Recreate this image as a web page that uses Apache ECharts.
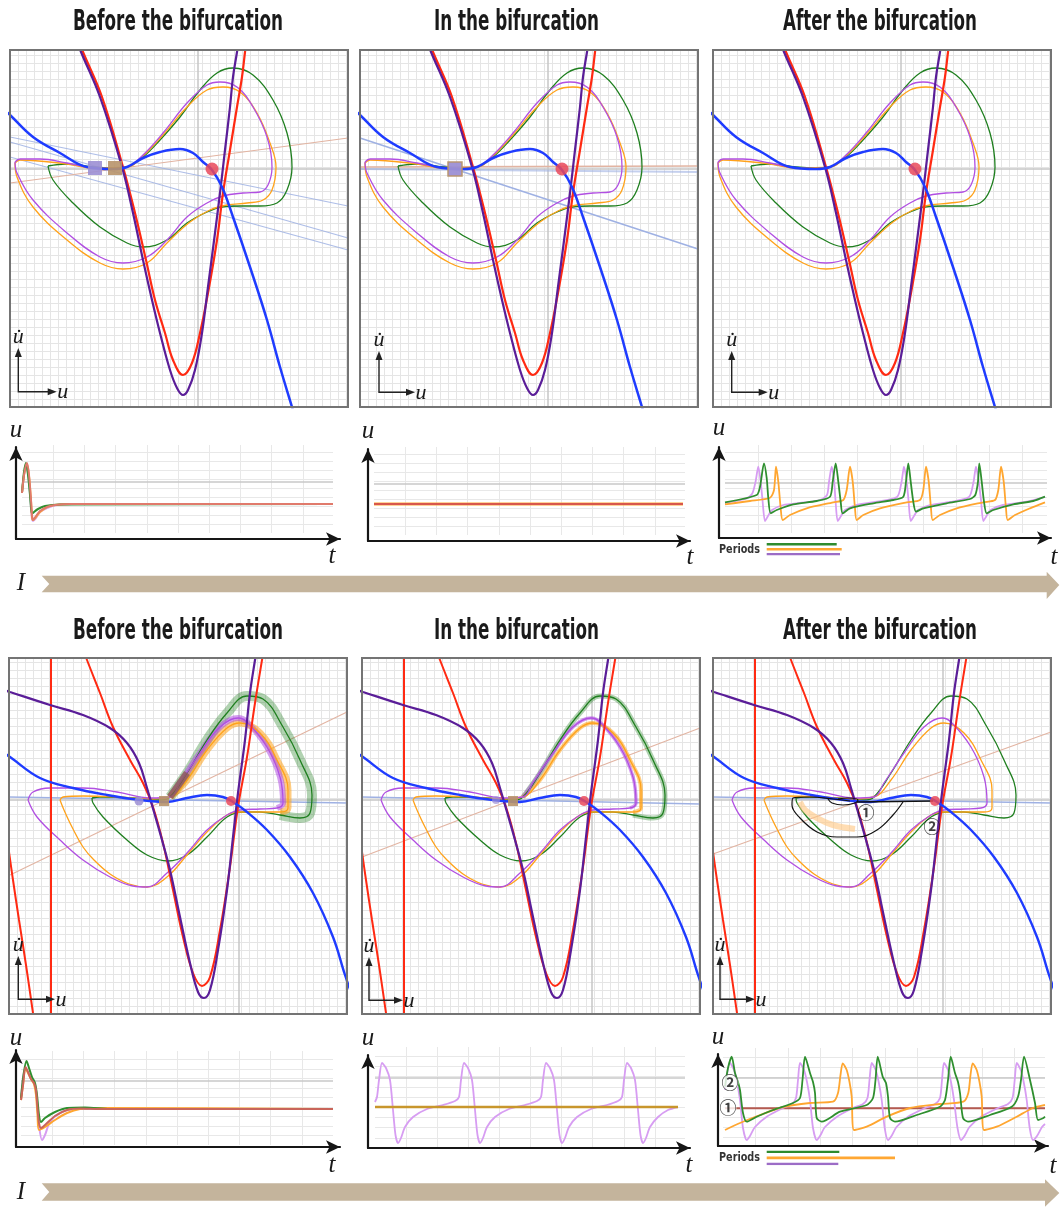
<!DOCTYPE html>
<html><head><meta charset="utf-8">
<script src="https://cdn.jsdelivr.net/npm/echarts@6.0.0/dist/echarts.min.js"></script>
<style>html,body{margin:0;padding:0;background:#fff}#c{width:1061px;height:1207px}</style>
</head><body><div id="c"></div><script>
// ================= DATA =================
// ---- Top row phase planes: [u, du/dt] ----
const topPurple = [[-120,125],[-117,117],[-98,72],[-76,2],[-65,-44],[-55,-91],[-46,-131],[-38,-164],[-28,-201],[-21,-219],[-15,-226],[-10,-221],[-3,-201],[4,-164],[10,-118],[17,-64],[22,-24],[27,19],[32,62],[35,92],[39,117],[40,125]];
const topRed = [[-118,125],[-115,117],[-96,72],[-75,2],[-63,-44],[-52,-91],[-43,-131],[-33,-164],[-25,-191],[-15,-206],[-6,-194],[2,-164],[10,-124],[19,-71],[25,-24],[32,19],[39,62],[44,92],[47,117],[48,125]];
const topBlue = [[-195,60],[-188,54],[-165,32],[-138,16],[-111,2],[-85,0],[-71,2],[-55,11],[-38,17],[-18,20],[-5,16],[5,7],[14,-1],[24,-18],[35,-48],[52,-98],[69,-151],[82,-198],[94,-238],[97,-248]];
const topGreen = [[-150,3],[-131,5],[-105,2],[-85,1],[-71,2],[-55,12],[-38,29],[-18,52],[2,79],[19,96],[35,101],[55,94],[75,69],[89,36],[94,2],[89,-21],[79,-34],[62,-37],[42,-37],[24,-38],[9,-43],[-11,-54],[-31,-71],[-55,-78],[-71,-74],[-98,-58],[-125,-34],[-145,-11],[-150,3]];
const topViolet = [[-183,7],[-178,10],[-158,10],[-131,6],[-105,1],[-85,0],[-71,2],[-55,14],[-35,36],[-11,66],[9,84],[22,87],[39,82],[55,62],[69,32],[74,2],[70,-16],[62,-23],[45,-24],[25,-27],[9,-34],[-11,-48],[-31,-71],[-51,-88],[-75,-94],[-98,-88],[-131,-64],[-165,-31],[-181,-4],[-183,7]];
const topOrange = [[-183,6],[-178,9],[-131,5],[-105,1],[-71,2],[-55,13],[-35,34],[-11,62],[9,79],[25,82],[42,77],[59,56],[72,26],[78,2],[74,-21],[65,-31],[49,-34],[29,-36],[12,-41],[-8,-53],[-31,-74],[-51,-94],[-75,-100],[-98,-94],[-131,-71],[-165,-38],[-181,-8],[-183,6]];
const tlEigenBlue1 = [[-188,32],[150,-37]];
const tlEigenBlue2 = [[-188,27],[150,-69]];
const tlEigenBlue3 = [[-188,12],[150,-81]];
const tlEigenSalmon = [[-188,-14],[150,31]];
const tmEigenBlue = [[-188,31],[150,-80]];
const tmEigenBlueFlat = [[-188,0],[150,-3]];
const tmEigenSalmonFlat = [[-188,2],[150,3]];
const tlSaddle = [[-103,1]];
const tlNode = [[-83,1]];
const tmNode = [[-93,0]];
const topFocus = [[14,0]];

// ---- Bottom row phase planes ----
const botPurple = [[-235,110],[-229,108],[-189,95],[-156,85],[-129,72],[-112,57],[-100,37],[-92,12],[-85,-12],[-77,-40],[-69,-70],[-59,-117],[-49,-163],[-41,-192],[-35,-198],[-29,-190],[-21,-150],[-12,-90],[-6,-37],[-1,7],[6,60],[11,107],[16,140],[17,146]];
const botRed = [[-154,146],[-152,140],[-139,107],[-126,73],[-109,40],[-96,17],[-86,-7],[-76,-43],[-66,-90],[-56,-137],[-46,-173],[-37,-186],[-29,-177],[-19,-130],[-9,-67],[-1,-7],[8,43],[16,97],[23,140],[24,146]];
const botRedVertical = [[-188,150],[-188,-220]];
const botRedLeft = [[-231,-45],[-226,-80],[-220,-120],[-213,-165],[-205,-220]];
const botBlue = [[-235,47],[-229,43],[-199,22],[-166,12],[-132,5],[-99,0],[-72,-2],[-52,2],[-32,5],[-16,3],[-6,-2],[8,-12],[28,-30],[51,-57],[74,-93],[94,-137],[106,-175],[112,-192]];
const botGreen = [[-147,2],[-139,3],[-106,2],[-79,0],[-69,3],[-52,27],[-32,60],[-12,87],[8,104],[24,101],[44,73],[61,40],[73,5],[71,-13],[61,-18],[41,-15],[21,-12],[4,-12],[-12,-17],[-32,-37],[-52,-55],[-71,-61],[-92,-55],[-112,-40],[-136,-17],[-146,-3],[-147,2]];
const botViolet = [[-211,0],[-206,8],[-189,12],[-156,12],[-122,8],[-89,2],[-69,3],[-59,17],[-39,47],[-19,73],[-1,82],[8,78],[28,53],[41,23],[44,-3],[38,-8],[21,-9],[1,-10],[-12,-15],[-32,-30],[-52,-53],[-72,-73],[-92,-87],[-106,-86],[-129,-77],[-156,-60],[-179,-40],[-202,-17],[-211,0]];
const botOrange = [[-179,0],[-176,3],[-156,4],[-122,3],[-89,1],[-69,3],[-52,20],[-32,50],[-12,72],[1,77],[21,67],[38,40],[49,10],[49,-8],[41,-12],[21,-12],[1,-12],[-12,-15],[-32,-32],[-52,-55],[-72,-77],[-92,-87],[-110,-84],[-129,-74],[-145,-60],[-156,-47],[-167,-27],[-175,-10],[-179,0]];
const blEigenBlue = [[-230,3],[108,-3]];
const blEigenSalmon = [[-229,-75],[108,88]];
const bmEigenBlue = [[-230,3],[108,-4]];
const bmEigenSalmon = [[-230,-57],[108,72]];
const brEigenBlue = [[-230,3],[108,-3]];
const brEigenSalmon = [[-230,-54],[108,68]];
const blSaddle = [[-100,-1]];
const blNode = [[-75,-1]];
const bmSaddle = [[-96,0]];
const bmNode = [[-79,-1]];
const botFocus = [[-8,-1]];
const brJump = [[-86,-2],[-10,-1]];
const brLoop = [[-40,-2],[-50,-15],[-66,-30],[-86,-37],[-106,-37],[-126,-32],[-143,-18],[-151,-5],[-150,2],[-133,3],[-110,1],[-93,-1]];
const brSwirl = [[-115,1],[-111,-3],[-100,-5],[-88,-3],[-85,0],[-95,2],[-105,1]];
const brBand = [[-143,-2],[-138,-10],[-126,-18],[-110,-25],[-88,-29]];
const brMarks = [[-77,-13,'\u2460'],[-11,-27,'\u2461']];

// ---- Time series: [t, u] ----
const tlTsViolet = [[0,40],[2,58],[4,67],[6,60],[8,40],[10,14],[11,12],[14,15],[18,21],[25,25],[35,28],[55,29],[311,29]];
const tlTsOrange = [[0,40],[2,58],[4,68],[5,69],[7,57],[9,32],[10,16],[11,13],[14,16],[18,21],[25,26],[33,28],[50,29],[311,29]];
const tlTsGreen = [[0,40],[2,61],[4,70],[6,58],[8,38],[10,19],[12,21],[16,24],[23,27],[38,28.5],[311,29]];
const tlTsRed = [[0,40],[2,58],[4,68],[5,70],[7,58],[9,33],[10,18],[11,13],[14,17],[18,22],[25,26],[33,28],[48,29],[311,29]];
const tmTsOrange = [[0,31],[309,31]];
const tmTsRed = [[0,31],[309,31]];
const trTsGreen = [[0,30.7],[31.7,38],[35,46.3],[39,69.7],[41.7,55],[43.3,35],[45.7,19.7],[51.7,23],[68.3,28.7],[91.7,32],[105,36.3],[107.7,51.3],[110.7,69.7],[113.3,51.3],[115.7,31.3],[117.7,19.7],[125,24.7],[148.3,29.7],[168.3,33],[178.3,36.3],[181,51.3],[183.3,69.7],[185.7,51.3],[188.3,31.3],[191,21.3],[198.3,24.7],[221.7,29.7],[245,34],[250.3,38],[253,51.3],[254.3,69.7],[256.7,51.3],[259,31.3],[261.7,19.7],[268.3,23],[288.3,28.7],[308.3,32],[320,36.3]];
const trTsViolet = [[0,30],[20,34],[27,39],[30.5,51],[33.3,66.3],[35.5,53],[37.5,33],[40,12],[43,17],[47,23],[58.3,28],[75,30],[95,33],[102,38],[104,51],[106.7,66.3],[109,53],[110.5,33],[112.7,12],[116,17],[120,23],[131,28],[150,31],[172,36],[176.5,51],[179,66.3],[181.5,53],[183.5,33],[185.7,12],[189,17],[193,23],[205,28],[225,31],[244,36],[248.5,51],[251,66.3],[253.5,53],[256,33],[258.3,12],[261.5,17],[265.5,23],[278,28],[300,31],[320,36]];
const trTsOrange = [[0,28.7],[25,32],[45,35.3],[49,43],[51,66.3],[53.3,51.3],[55.7,24.7],[57.7,13],[65,18],[81.7,24.7],[108.3,30.7],[118.3,33],[121.7,43],[125,66.3],[127.7,51.3],[130,24.7],[131.7,13],[138.3,18],[155,24.7],[181.7,30.7],[195,33],[198.3,43],[201,66.3],[203.7,51.3],[206,24.7],[207.7,13],[215,18],[231.7,24.7],[258.3,30.7],[270,33],[273.3,43],[276,66.3],[278.7,51.3],[281,24.7],[282.7,13],[290,18],[305,24.7],[320,30.7]];
const trPeriodStart = 41.7;
const trPeriods = [70, 75, 73.3]; // green, orange, violet

const blTsViolet = [[0,45],[4.5,77],[10,67],[14,60],[16,45],[18,20],[21,5],[24,10],[29,23],[39,32],[54,36],[312,36]];
const blTsOrange = [[0,45],[2,60],[4.5,77],[7,72],[10,66],[13,61],[15,50],[16.5,30],[18,15],[24,18],[34,25],[46,32],[59,36],[79,37],[312,36]];
const blTsGreen = [[0,47],[2.5,70],[5.5,84],[8,77],[11,68],[14,62],[16,50],[18,30],[20,23],[24,27],[34,33],[46,37],[64,37.5],[89,36],[312,36]];
const blTsRed = [[0,45],[2,60],[4.5,78],[7,73],[10,66],[13,62],[15,55],[16.5,37],[18,22],[20,17],[24,20],[34,29],[46,35],[59,36.5],[79,36],[312,36]];
const bmTsViolet = [[0,46],[2,51],[4,68],[7,85],[11,80],[15,68],[18,38],[20.5,13],[23,5],[26,10],[30,21],[38,31],[52,39],[68,43],[80,47],[84,51],[86,68],[89,85],[93,80],[97,68],[100,38],[102.5,13],[105,5],[108,10],[112,21],[120,31],[134,39],[150,43],[162,47],[166,51],[168,68],[171,85],[175,80],[179,68],[182,38],[184.5,13],[187,5],[190,10],[194,21],[202,31],[216,39],[232,43],[243,47],[247,51],[249,68],[252,85],[256,80],[260,68],[263,38],[265.5,13],[268,5],[271,10],[275,21],[283,31],[293,38],[303,41]];
const bmTsFlat = [[0,41],[303,41]];
const brTsFlat = [[2,38.7],[322,38.7]];
const brTsGreen = [[2,60.3],[5,79],[8.7,90.3],[12,74],[15,65],[17,57],[20,34],[23.7,25.3],[33.7,30.3],[50,37],[70,44],[77,49],[79.5,67],[82,90.3],[87,74],[90,65],[92,54],[93.7,29],[98.7,25.3],[117,35.3],[143.7,42],[150,49],[152.5,67],[154.7,90.3],[159.7,70.3],[163,64],[165,50.3],[167,29],[172,25.3],[193.7,32],[217,40.3],[222,47],[225,67],[227.7,90.3],[232,74],[235,65],[237,54],[240,29],[245,25.3],[267,32],[288.7,40.3],[295,50.3],[298,67],[301,90.3],[307,67],[312,44],[315,27],[320,28.7],[322,30.3]];
const brTsViolet = [[2,57],[7,84],[11,77],[14,65],[17,47],[20,19],[23.7,7],[27,11],[32,20],[43.7,30.3],[60,39],[69,43],[73,49],[75,67],[77,84],[81,77],[84,65],[87,47],[90,19],[93.7,7],[97,11],[102,20],[114,30.3],[130,39],[140,43],[144.5,49],[146.5,67],[148.7,84],[152.7,77],[155.7,65],[158.7,47],[161.7,19],[165,7],[168.5,11],[173.5,20],[185,30.3],[202,39],[212,43],[217,49],[219,67],[221,84],[225,77],[228,65],[231,47],[234.5,19],[238,7],[241.5,11],[246.5,20],[258,30.3],[275,39],[285,43],[289.5,49],[291.7,67],[293.7,84],[297.7,77],[300.7,65],[303.7,47],[306.7,19],[310,7],[314,11],[319,20],[322,23]];
const brTsOrange = [[2,17],[17,24],[37,32],[60,40],[87,44],[110,45.3],[115,54],[117.5,72],[119.7,83.7],[123.7,77],[126.5,65],[128.7,50.3],[131,17],[143.7,20.3],[163.7,30.3],[187,39],[217,43],[240.3,45.3],[245.3,54],[247.5,72],[249.7,83.7],[253.7,77],[256.5,65],[258.7,50.3],[261,17],[273.7,20.3],[293.7,30.3],[310,39],[322,42]];
const brTsMarks = [[5,39,'\u2460'],[7,64,'\u2461']];
const brPeriodStart = 43.7;
const brPeriods = [72.6, 128.3, 71.6]; // green, orange, violet

const titles = ['Before the bifurcation', 'In the bifurcation', 'After the bifurcation'];

// ================= BUILD =================
const C = {
  blue:'#1f3cff', red:'#ff2a12', purple:'#5a1d98', green:'#1f7f1f', violet:'#b14fe2', orange:'#ffa21a',
  eigBlue:'#9fb1e3', eigSalmon:'#e2b4a2', focus:'#e9495a', saddle:'#9c8fd4', node:'#b8946a',
  tsGreen:'#2f8f2f', tsOrange:'#ffa630', tsViolet:'#d79df2', tsRed:'#c9655a'
};
const grid = [], xAxis = [], yAxis = [], series = [], g = [];

function line(xi, yi, data, color, width, extra) {
  series.push(Object.assign({type:'line', xAxisIndex:xi, yAxisIndex:yi, data:data, symbol:'none', showSymbol:false,
    smooth:0.4, lineStyle:{color:color, width:width}, silent:true, animation:false, z:3}, extra || {}));
}
function dots(xi, yi, data, symbol, size, style, extra) {
  series.push(Object.assign({type:'scatter', xAxisIndex:xi, yAxisIndex:yi, data:data, symbol:symbol, symbolSize:size,
    itemStyle:style, silent:true, animation:false, z:8}, extra || {}));
}
const hidden = {axisLine:{show:false}, axisTick:{show:false}, axisLabel:{show:false}};

function phase(left, top, w, h, ur, udr) {
  const gi = grid.length;
  grid.push({left:left, top:top, width:w, height:h, show:true, backgroundColor:'#fff', borderWidth:0});
  g.push({type:'rect', z:95, silent:true, shape:{x:left, y:top, width:w, height:h}, style:{fill:null, stroke:'#747474', lineWidth:2}});
  const sl = {show:true, showMinLine:false, showMaxLine:false, lineStyle:{color:'#e5e5e5', width:1}};
  xAxis.push(Object.assign({gridIndex:gi, type:'value', position:'top', min:0, max:w, interval:8, splitLine:sl}, hidden));
  yAxis.push(Object.assign({gridIndex:gi, type:'value', position:'right', min:0, max:h, interval:8, splitLine:sl}, hidden));
  const xi = xAxis.length; xAxis.push({gridIndex:gi, type:'value', min:ur[0], max:ur[1], show:false});
  const yi = yAxis.length; yAxis.push({gridIndex:gi, type:'value', min:udr[0], max:udr[1], show:false});
  line(xi, yi, [[0, udr[0]], [0, udr[1]]], '#c6c6c6', 1.5, {smooth:false, z:1});
  line(xi, yi, [[ur[0], 0], [ur[1], 0]], '#c6c6c6', 1.5, {smooth:false, z:1});
  return {xi:xi, yi:yi};
}
function ts(outer, inner, tInt, uInt, dark) {
  let gi = grid.length;
  grid.push({left:outer[0], top:outer[1], width:outer[2], height:outer[3]});
  const axl = {show:true, onZero:false, symbol:['none','arrow'], symbolSize:[10,14], lineStyle:{color:'#161616', width:2.2}};
  xAxis.push({gridIndex:gi, type:'value', min:0, max:1, axisLine:axl, axisTick:{show:false}, axisLabel:{show:false}, splitLine:{show:false}});
  yAxis.push({gridIndex:gi, type:'value', min:0, max:1, axisLine:axl, axisTick:{show:false}, axisLabel:{show:false}, splitLine:{show:false}});
  gi = grid.length;
  grid.push({left:inner[0], top:inner[1], width:inner[2], height:inner[3]});
  const sl = {show:true, showMinLine:false, showMaxLine:false, lineStyle:{color:'#e8e8e8', width:1}};
  const xi = xAxis.length; xAxis.push(Object.assign({gridIndex:gi, type:'value', min:0, max:inner[2], interval:tInt, splitLine:sl}, hidden));
  const yi = yAxis.length; yAxis.push(Object.assign({gridIndex:gi, type:'value', min:0, max:inner[3], interval:uInt, splitLine:sl}, hidden));
  line(xi, yi, [[0, dark], [inner[2], dark]], '#c9c9c9', 1.5, {smooth:false, z:1});
  return {xi:xi, yi:yi, w:inner[2]};
}
function periods(left, top, w, h, start, vals) {
  const gi = grid.length;
  grid.push({left:left, top:top, width:w, height:h});
  const xi = xAxis.length; xAxis.push({gridIndex:gi, type:'value', min:0, max:w, show:false});
  const yi = yAxis.length; yAxis.push({gridIndex:gi, type:'value', min:0, max:2, inverse:true, show:false});
  const cols = ['#2e8b2e', '#ffa733', '#9c6cc6'];
  vals.forEach(function (p, i) { line(xi, yi, [[start, i], [start + p, i]], cols[i], 2.6, {smooth:false}); });
}
const markLabel = {show:true, position:'inside', formatter:function (p) { return p.data[2]; }, fontSize:17,
  fontWeight:'bold', color:'#111', fontFamily:'"Noto Sans CJK JP", "DejaVu Sans", sans-serif'};

const TOP_U = [-188,150], TOP_UD = [-238,119], BOT_U = [-230,108], BOT_UD = [-214,142];

// ---- top phase panels ----
[10, 360, 713].forEach(function (left, k) {
  const a = phase(left, 50, 338, 357, TOP_U, TOP_UD);
  if (k === 0) {
    [tlEigenBlue1, tlEigenBlue2, tlEigenBlue3].forEach(function (d) { line(a.xi, a.yi, d, C.eigBlue, 1.1, {smooth:false, z:2, lineStyle:{color:C.eigBlue, width:1.1, opacity:0.85}}); });
    line(a.xi, a.yi, tlEigenSalmon, C.eigSalmon, 1.1, {smooth:false, z:2});
  } else if (k === 1) {
    line(a.xi, a.yi, tmEigenBlue, C.eigBlue, 1.6, {smooth:false, z:2});
    line(a.xi, a.yi, tmEigenBlueFlat, C.eigBlue, 2.2, {smooth:false, z:2, lineStyle:{color:C.eigBlue, width:2.2, opacity:0.6}});
    line(a.xi, a.yi, tmEigenSalmonFlat, C.eigSalmon, 1.4, {smooth:false, z:2});
  }
  line(a.xi, a.yi, topGreen, C.green, 1.3);
  line(a.xi, a.yi, topOrange, C.orange, 1.3);
  line(a.xi, a.yi, topViolet, C.violet, 1.3);
  line(a.xi, a.yi, topRed, C.red, 2.2, {z:4});
  line(a.xi, a.yi, topPurple, C.purple, 2.2, {z:4});
  line(a.xi, a.yi, topBlue, C.blue, 2.5, {z:5});
  if (k === 0) {
    dots(a.xi, a.yi, tlSaddle, 'rect', 14, {color:C.saddle, opacity:0.9});
    dots(a.xi, a.yi, tlNode, 'rect', 14, {color:C.node, opacity:0.9});
  } else if (k === 1) {
    dots(a.xi, a.yi, tmNode, 'rect', 14, {color:C.saddle, borderColor:C.node, borderWidth:1.5, opacity:0.95});
  }
  dots(a.xi, a.yi, topFocus, 'circle', 13, {color:C.focus, opacity:0.85});
});

// ---- bottom phase panels ----
[9, 362, 713].forEach(function (left, k) {
  const a = phase(left, 658, 338, 356, BOT_U, BOT_UD);
  const eb = [blEigenBlue, bmEigenBlue, brEigenBlue][k], es = [blEigenSalmon, bmEigenSalmon, brEigenSalmon][k];
  line(a.xi, a.yi, eb, C.eigBlue, 1.3, {smooth:false, z:2});
  line(a.xi, a.yi, es, C.eigSalmon, 1.1, {smooth:false, z:2});
  if (k < 2) {
    const bw = k === 0 ? [10, 7, 6] : [5, 4, 3.5];
    line(a.xi, a.yi, botGreen.slice(4, 16), C.green, bw[0], {z:2, lineStyle:{color:C.green, width:bw[0], opacity:0.35}});
    line(a.xi, a.yi, botOrange.slice(5, 15), C.orange, bw[1], {z:2, lineStyle:{color:C.orange, width:bw[1], opacity:0.55}});
    line(a.xi, a.yi, botViolet.slice(6, 16), C.violet, bw[2], {z:2, lineStyle:{color:C.violet, width:bw[2], opacity:0.55}});
  }
  line(a.xi, a.yi, botGreen, C.green, 1.3);
  line(a.xi, a.yi, botOrange, C.orange, 1.3);
  line(a.xi, a.yi, botViolet, C.violet, 1.3);
  if (k === 0) {
    line(a.xi, a.yi, botGreen.slice(4, 6), '#8a5a4e', 7, {smooth:false, z:3, lineStyle:{color:'#8a5a4e', width:7, opacity:0.75}});
  }
  if (k === 2) {
    line(a.xi, a.yi, brBand, C.orange, 6, {z:3, lineStyle:{color:'#ffc680', width:6, opacity:0.6}});
    line(a.xi, a.yi, brLoop, '#111', 1.2, {z:6});
    line(a.xi, a.yi, brSwirl, '#111', 1.1, {z:6});
    line(a.xi, a.yi, brJump, '#111', 1.4, {smooth:false, z:6});
  }
  line(a.xi, a.yi, botRedVertical, C.red, 2, {smooth:false, z:4});
  line(a.xi, a.yi, botRedLeft, C.red, 2, {z:4});
  line(a.xi, a.yi, botRed, C.red, 2, {z:4});
  line(a.xi, a.yi, botPurple, C.purple, 2.2, {z:4});
  line(a.xi, a.yi, botBlue, C.blue, 2.4, {z:5});
  if (k === 0) {
    dots(a.xi, a.yi, blSaddle, 'circle', 9, {color:C.saddle, opacity:0.85});
    dots(a.xi, a.yi, blNode, 'rect', 10, {color:C.node, opacity:0.9});
  } else if (k === 1) {
    dots(a.xi, a.yi, bmSaddle, 'circle', 8, {color:C.saddle, opacity:0.7});
    dots(a.xi, a.yi, bmNode, 'rect', 10, {color:C.node, opacity:0.9});
  }
  dots(a.xi, a.yi, botFocus, 'circle', 10, {color:C.focus, opacity:0.85});
  if (k === 2) {
    dots(a.xi, a.yi, brMarks, 'circle', 1, {color:'rgba(0,0,0,0)'}, {z:9, label:markLabel});
  }
});

// ---- time series panels ----
let t;
t = ts([16,447,324,92], [22,445,311,88], 31.2, 9, 51);
line(t.xi, t.yi, tlTsViolet, C.tsViolet, 2, {smooth:0.3});
line(t.xi, t.yi, tlTsOrange, C.tsOrange, 2, {smooth:0.3});
line(t.xi, t.yi, tlTsGreen, C.tsGreen, 2, {smooth:0.3});
line(t.xi, t.yi, tlTsRed, '#e07a6c', 2, {smooth:0.3});

t = ts([368,449,322,92], [374,447,311,88], 31.2, 9, 51);
line(t.xi, t.yi, tmTsOrange, C.tsOrange, 3, {smooth:false});
line(t.xi, t.yi, tmTsRed, '#d8574c', 1.8, {smooth:false});

t = ts([719,447,332,91], [725,445,322,88], 33, 9, 50);
line(t.xi, t.yi, trTsViolet, C.tsViolet, 1.8, {smooth:0.25});
line(t.xi, t.yi, trTsOrange, C.tsOrange, 1.8, {smooth:0.25});
line(t.xi, t.yi, trTsGreen, C.tsGreen, 1.8, {smooth:0.25});
periods(725, 544.3, 322, 10, trPeriodStart, trPeriods);

t = ts([16,1050,324,97], [21,1051,312,94], 31.2, 9.5, 64);
line(t.xi, t.yi, blTsViolet, C.tsViolet, 2, {smooth:0.3});
line(t.xi, t.yi, blTsOrange, C.tsOrange, 2, {smooth:0.3});
line(t.xi, t.yi, blTsGreen, C.tsGreen, 2, {smooth:0.3});
line(t.xi, t.yi, blTsRed, C.tsRed, 2, {smooth:0.3});

t = ts([368,1055,322,93], [375,1047,310,101], 31.1, 10.2, 70);
line(t.xi, t.yi, bmTsViolet, C.tsViolet, 1.8, {smooth:0.25});
line(t.xi, t.yi, bmTsFlat, '#c8962c', 2.6, {smooth:false});

t = ts([718,1054,330,92], [723,1048,322,99], 32.4, 10, 69);
line(t.xi, t.yi, brTsFlat, '#b45a50', 2, {smooth:false});
line(t.xi, t.yi, brTsViolet, C.tsViolet, 1.8, {smooth:0.25});
line(t.xi, t.yi, brTsOrange, C.tsOrange, 1.8, {smooth:0.25});
line(t.xi, t.yi, brTsGreen, C.tsGreen, 1.8, {smooth:0.25});
dots(t.xi, t.yi, brTsMarks, 'circle', 1, {color:'rgba(0,0,0,0)'}, {z:9, label:Object.assign({}, markLabel, {backgroundColor:'#fff', borderRadius:9})});
periods(723, 1151.7, 322, 12.3, brPeriodStart, brPeriods);

// ---- decorations & text ----
const SERIF = '"Liberation Serif", "DejaVu Serif", serif';
const cv = document.createElement('canvas').getContext('2d');
function fit(text, font, target) { cv.font = font; return target / cv.measureText(text).width; }
function txt(x, y, text, font, opts) {
  g.push(Object.assign({type:'text', x:x, y:y, z:100, silent:true,
    style:{text:text, x:0, y:0, font:font, fill:'#1a1a1a', textAlign:'center', textVerticalAlign:'middle', align:'center', verticalAlign:'middle'}}, opts || {}));
}
const TF = 'bold 29px "DejaVu Sans Condensed", "DejaVu Sans", sans-serif';
const tX = [178, 516.5, 880], tW = [210, 165, 194];
[22.5, 631.5].forEach(function (y) {
  titles.forEach(function (s, i) { txt(tX[i], y, s, TF, {scaleX: fit(s, TF, tW[i])}); });
});
const PF = 'bold 13px "DejaVu Sans Condensed", "DejaVu Sans", sans-serif';
[550, 1157.5].forEach(function (y) {
  g.push({type:'text', x:719, y:y, z:100, silent:true, scaleX: fit('Periods', PF, 41),
    style:{text:'Periods', x:0, y:0, font:PF, fill:'#333', textAlign:'left', textVerticalAlign:'middle', align:'left', verticalAlign:'middle'}});
});
// time-series axis letters
const LF = 'italic 25px ' + SERIF;
[[16,430,332,556],[368,431,690,557],[719,428,1054,557],[16,1038,332,1165],[368,1038,689,1165],[718,1037,1053,1166]].forEach(function (p) {
  txt(p[0], p[1], 'u', LF); txt(p[2], p[3], 't', LF);
});
txt(21, 583, 'I', 'italic 25px ' + SERIF);
txt(21, 1192, 'I', 'italic 25px ' + SERIF);
// I arrows
g.push({type:'polygon', z:90, silent:true, shape:{points:[[41.7,575.7],[1046.7,575.7],[1046.7,571.7],[1059.3,585],[1046.7,599],[1046.7,592.3],[41.7,592.3],[49.3,584]]}, style:{fill:'#c4b49c'}});
g.push({type:'polygon', z:90, silent:true, shape:{points:[[41.7,1183.3],[1045,1183.3],[1045,1179.3],[1059.3,1193],[1045,1206.7],[1045,1200.7],[41.7,1200.7],[49.3,1192]]}, style:{fill:'#c4b49c'}});
// phase-plane axis indicators
const PLF = 'italic 22px ' + SERIF;
[[18.3,391.7,348,56.7],[379,392.3,351,415],[731.7,392.3,351,767.7],[18.3,999.3,956,55],[369,1000.3,957,403],[720,999.3,956,755]].forEach(function (p) {
  const x0 = p[0], y0 = p[1], vt = p[2], ht = p[3];
  g.push({type:'polyline', z:100, silent:true, shape:{points:[[x0, vt + 6], [x0, y0], [ht - 6, y0]]}, style:{stroke:'#222', lineWidth:1.4, fill:null}});
  g.push({type:'polygon', z:100, silent:true, shape:{points:[[x0, vt], [x0 - 3.5, vt + 9], [x0 + 3.5, vt + 9]]}, style:{fill:'#222'}});
  g.push({type:'polygon', z:100, silent:true, shape:{points:[[ht, y0], [ht - 9, y0 - 3.5], [ht - 9, y0 + 3.5]]}, style:{fill:'#222'}});
  txt(x0, vt - 11, 'u\u0307', PLF);
  txt(ht + 6, y0 + 1, 'u', PLF);
});

const chart = echarts.init(document.getElementById('c'), null, {renderer:'canvas', width:1061, height:1207});
chart.setOption({backgroundColor:'#fff', animation:false, grid:grid, xAxis:xAxis, yAxis:yAxis, series:series, graphic:{elements:g}});
</script></body></html>
